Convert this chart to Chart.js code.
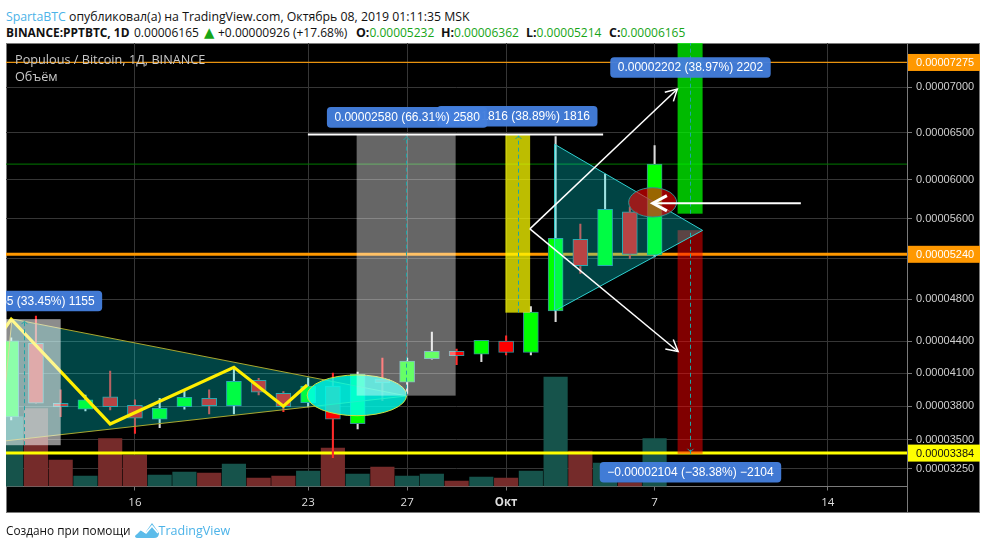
<!DOCTYPE html>
<html>
<head>
<meta charset="utf-8">
<title>PPTBTC</title>
<script src="https://cdn.jsdelivr.net/npm/chart.js@4"></script>
<style>
  body { margin: 0; background: #fff; font-family: "Open Sans", sans-serif; color: #111; }
  #chartCanvas { position: absolute; left: 0; top: 0; }
  .line { position: absolute; left: 6px; font-size: 12.3px; white-space: nowrap; }
  .cell { position: absolute; top: 24px; font-size: 12px; white-space: nowrap; }
  .blue { color: #4cb3e8; }
  .up { color: #17a517; }
  .arrow { font-family: "DejaVu Sans"; font-size: 13.5px; line-height: 1.2; }
  b { font-weight: 700; font-size: 12.4px; }
  b.symbol { font-size: 11.9px; }
  #footer { top: 522px; font-size: 11.8px; }
  #footer .blue { font-size: 12.5px; }
  #footer svg { vertical-align: -4px; margin: 0 0 0 1px; }
</style>
</head>
<body>
<div class="line" style="top:8px"><span class="blue">SpartaBTC</span> опубликовал(а) на TradingView.com, Октябрь 08, 2019 01:11:35 MSK</div>
<div class="cell" style="left:6px"><b class="symbol">BINANCE:PPTBTC, 1D</b></div>
<div class="cell" style="left:134px">0.00006165</div>
<div class="cell arrow up" style="left:204px">▲</div>
<div class="cell" style="left:218px">+0.00000926 (+17.68%)</div>
<div class="cell" style="left:356px"><b>O:</b><span class="up">0.00005232</span></div>
<div class="cell" style="left:441px"><b>H:</b><span class="up">0.00006362</span></div>
<div class="cell" style="left:526px"><b>L:</b><span class="up">0.00005214</span></div>
<div class="cell" style="left:609px"><b>C:</b><span class="up">0.00006165</span></div>
<canvas id="chartCanvas" width="987" height="550"></canvas>
<div class="line" id="footer">Создано при помощи <svg width="24" height="17" viewBox="0 0 24 17"><path fill="#5cbcea" d="M0 14 L5 8 L10 11 L17 1 L24 11 Q24 16 19 16 L3 16 Q0 16 0 14Z"/><path fill="none" stroke="#fff" stroke-width="1.6" d="M1 12 L6 7 L11 11 L17 4 L23 11"/></svg><span class="blue">TradingView</span></div>

<script>
// Days counted from Sep 1, so Oct 1 is 31
const days = [11,12,13,14,15,16,17,18,19,20,21,22,23,24,25,26,27,28,29,30,31,32,33,34,35,36,37];

// Prices in satoshi
const opens  = [3704,4380,3827,3773,3884,3809,3683,3796,3872,3805,4036,3917,3833,3984,3644,4048,4018,4236,4305,4277,4399,4293,4686,5391,5127,5668,5232];
const highs  = [4430,4638,3948,3902,4121,3857,3872,3948,3948,4156,4055,3932,4057,4103,4112,4240,4240,4484,4324,4408,4449,4728,6458,5545,6060,5719,6362];
const lows   = [3677,3827,3706,3757,3767,3558,3608,3773,3731,3731,3902,3751,3794,3345,3597,3851,3917,4230,4180,4208,4271,4271,4584,5052,5127,5200,5214];
const closes = [4402,3827,3796,3857,3796,3692,3782,3881,3805,4027,3927,3796,3984,3683,4094,4011,4212,4305,4264,4408,4293,4676,5401,5127,5695,5239,6165];
const volumes = [70,78,26.5,10.5,48,31.5,11.5,14.5,13.5,22.5,8.5,10.5,15.5,38.5,12.5,19.5,10.5,12.5,5.5,9.5,8.5,15.5,109.5,35.5,23.5,4,47.8];

// Axis ticks
const priceTicks = [7000,6500,6000,5600,5200,4800,4400,4100,3800,3500,3250];
const dayTicks = [16,23,27,31,37,44];
const dayLabels = ['16','23','27','Окт','7','14'];

// Horizontal levels and the labels on the price axis
const levelOrange = 7275;
const levelSupport = 5240;
const levelYellow = 3384;
const levelLast = 6165;

// Yellow zigzag
const zigzagDays = [10.5,11,15,20,22,22.96];
const zigzagPrices = [4440,4607,3641,4156,3800,3993];

// Triangles
const triangleLeftDays = [11.03,26.99,10.55];
const triangleLeftPrices = [4610,3893,3486];
const triangleRightDays = [32.96,38.94,32.96];
const triangleRightPrices = [6376,5480,4686];

// Measure boxes: from day, to day, low price, high price
const boxLeft = [10,13,3453,4608];
const boxGray = [24.96,28.96,3896,6476];
const boxYellow = [30.97,31.97,4670,6486];
const boxGreen = [37.93,38.94,5650,7852];
const boxRed = [37.93,38.94,3378,5482];

// Ellipses: left day, right day, bottom price, top price
const ellipseTeal = [22.96,26.98,3715,4085];
const ellipseRed = [35.95,37.89,5616,5918];

// White arrows: from day, from price, to day, to price
const arrowUp = [31.96,5495,37.92,6978];
const arrowDown = [31.96,5495,37.95,4302];
const arrowLeft = [42.91,5757,36.93,5757];
const topLine = [22.99,6480,34.92,6480];

// Blue labels
const labelTexts = ['0.00001155 (33.45%) 1155','0.00001816 (38.89%) 1816','0.00002580 (66.31%) 2580','0.00002202 (38.97%) 2202','−0.00002104 (−38.38%) −2104'];
const labelDays = [11.47,31.45,27,38.45,38.45];
const labelPrices = [4782,6679,6666,7218,3217];

// The price axis of the picture is a log scale with a shift
const PRICE_SHIFT = 10000;
class ShiftedLogScale extends Chart.LinearScale {
  getPixelForValue(value) {
    const f = v => Math.log(v + PRICE_SHIFT);
    return this.top + (f(this.max) - f(value)) / (f(this.max) - f(this.min)) * this.height;
  }
  getValueForPixel(pixel) {
    const f = v => Math.log(v + PRICE_SHIFT);
    const t = (pixel - this.top) / this.height;
    return Math.exp(f(this.max) - t * (f(this.max) - f(this.min))) - PRICE_SHIFT;
  }
}
ShiftedLogScale.id = 'shiftedLog';
ShiftedLogScale.defaults = Chart.LinearScale.defaults;
Chart.register(ShiftedLogScale);

const X_MIN = 10.79, X_MAX = 47.2;
const TEAL_FILL = 'rgba(0,243,243,0.28)';
const rising = days.map((d, i) => closes[i] >= opens[i]);

function levelLine(label, price, color, width) {
  return {
    type: 'line', label: label, order: 8, yAxisID: 'y',
    data: [{ x: X_MIN, y: price }, { x: X_MAX, y: price }],
    borderColor: color, borderWidth: width, pointRadius: 0
  };
}

// Helpers, everything goes through the chart's scales
function px(chart, day) { return chart.scales.x.getPixelForValue(day); }
function py(chart, price) { return chart.scales.y.getPixelForValue(price); }

function clipArea(chart) {
  const a = chart.chartArea;
  chart.ctx.beginPath();
  chart.ctx.rect(a.left, a.top, a.right - a.left, a.bottom - a.top);
  chart.ctx.clip();
}

function drawPolygon(chart, polyDays, polyPrices, stroke) {
  const ctx = chart.ctx;
  ctx.beginPath();
  polyDays.forEach((d, i) => ctx.lineTo(px(chart, d), py(chart, polyPrices[i])));
  ctx.closePath();
  ctx.fillStyle = TEAL_FILL;
  ctx.fill();
  ctx.strokeStyle = stroke;
  ctx.lineWidth = 1;
  ctx.stroke();
}

function drawEllipse(chart, e, fill, stroke) {
  const ctx = chart.ctx;
  const x0 = px(chart, e[0]), x1 = px(chart, e[1]);
  const y0 = py(chart, e[2]), y1 = py(chart, e[3]);
  ctx.beginPath();
  ctx.ellipse((x0 + x1) / 2, (y0 + y1) / 2, (x1 - x0) / 2, (y0 - y1) / 2, 0, 0, Math.PI * 2);
  ctx.fillStyle = fill;
  ctx.fill();
  ctx.strokeStyle = stroke;
  ctx.lineWidth = 1;
  ctx.stroke();
}

// Box with the dashed arrow in the middle
function drawBox(chart, b, fill, arrowAtTop) {
  const ctx = chart.ctx;
  const x0 = px(chart, b[0]), x1 = px(chart, b[1]);
  const yLow = py(chart, b[2]), yHigh = py(chart, b[3]);
  ctx.fillStyle = fill;
  ctx.fillRect(x0, yHigh, x1 - x0, yLow - yHigh);
  const cx = Math.round((x0 + x1) / 2) + 0.5;
  ctx.strokeStyle = '#1fa5a5';
  ctx.lineWidth = 1;
  ctx.setLineDash([4, 3]);
  ctx.beginPath();
  ctx.moveTo(cx, yLow);
  ctx.lineTo(cx, yHigh);
  ctx.stroke();
  ctx.setLineDash([]);
  const tipY = arrowAtTop ? yHigh + 2 : yLow - 2;
  const dir = arrowAtTop ? 1 : -1;
  ctx.beginPath();
  ctx.moveTo(cx - 3, tipY + dir * 3);
  ctx.lineTo(cx, tipY);
  ctx.lineTo(cx + 3, tipY + dir * 3);
  ctx.stroke();
}

function drawArrow(chart, a, width, head, headWidth) {
  const ctx = chart.ctx;
  const x0 = px(chart, a[0]), y0 = py(chart, a[1]);
  const x1 = px(chart, a[2]), y1 = py(chart, a[3]);
  ctx.strokeStyle = '#fff';
  ctx.lineWidth = width;
  ctx.beginPath();
  ctx.moveTo(x0, y0);
  ctx.lineTo(x1, y1);
  ctx.stroke();
  if (head > 0) {
    const angle = Math.atan2(y1 - y0, x1 - x0);
    ctx.lineWidth = headWidth;
    ctx.beginPath();
    ctx.moveTo(x1 - head * Math.cos(angle - 0.5), y1 - head * Math.sin(angle - 0.5));
    ctx.lineTo(x1, y1);
    ctx.lineTo(x1 - head * Math.cos(angle + 0.5), y1 - head * Math.sin(angle + 0.5));
    ctx.stroke();
  }
}

function drawLabel(chart, i) {
  const ctx = chart.ctx;
  ctx.font = '12px "Liberation Sans"';
  const w = ctx.measureText(labelTexts[i]).width + 15;
  const cx = px(chart, labelDays[i]), cy = py(chart, labelPrices[i]);
  ctx.beginPath();
  ctx.roundRect(cx - w / 2, cy - 10.3, w, 20.6, 4);
  ctx.fillStyle = 'rgba(68,126,220,0.96)';
  ctx.fill();
  ctx.fillStyle = '#fff';
  ctx.textAlign = 'center';
  ctx.textBaseline = 'middle';
  ctx.fillText(labelTexts[i], cx, cy + 0.5);
}

function priceTag(chart, price, fill, textColor) {
  const ctx = chart.ctx;
  const y = py(chart, price);
  const a = chart.chartArea;
  ctx.fillStyle = fill;
  ctx.fillRect(a.right + 1, y - 8.5, 72, 17);
  ctx.fillStyle = textColor;
  ctx.font = '11px "Liberation Sans"';
  ctx.textAlign = 'left';
  ctx.textBaseline = 'middle';
  ctx.fillText((price / 1e8).toFixed(8), a.right + 9, y + 0.5);
}

const drawings = {
  id: 'drawings',
  beforeDraw(chart) {
    const ctx = chart.ctx;
    const a = chart.chartArea;
    ctx.fillStyle = '#000';
    ctx.fillRect(6, 43, 974, 470);
    ctx.strokeStyle = '#7a7a7a';
    ctx.lineWidth = 1;
    ctx.strokeRect(6.5, 43.5, 973, 469);
    ctx.beginPath();
    ctx.moveTo(a.right + 0.5, 43);
    ctx.lineTo(a.right + 0.5, 513);
    ctx.stroke();
  },
  // Layers between the datasets
  afterDatasetDraw(chart, args) {
    const label = chart.data.datasets[args.index].label;
    const ctx = chart.ctx;
    ctx.save();
    clipArea(chart);
    if (label === 'bodies') {
      drawPolygon(chart, triangleLeftDays, triangleLeftPrices, '#a8a830');
    }
    if (label === 'zigzag') {
      drawEllipse(chart, ellipseTeal, 'rgba(0,255,235,0.82)', '#c8e040');
      drawBox(chart, boxLeft, 'rgba(255,255,255,0.55)', true);
      drawBox(chart, boxGray, 'rgba(255,255,255,0.4)', true);
      drawBox(chart, boxYellow, 'rgba(255,255,0,0.74)', true);
      drawBox(chart, boxGreen, 'rgba(0,255,0,0.73)', true);
      drawBox(chart, boxRed, 'rgba(255,0,0,0.5)', false);
      drawPolygon(chart, triangleRightDays, triangleRightPrices, '#2fd0d0');
      drawEllipse(chart, ellipseRed, 'rgba(255,0,0,0.6)', '#2f9090');
      drawArrow(chart, topLine, 2, 0, 0);
      drawArrow(chart, arrowUp, 1.5, 13, 1.5);
      drawArrow(chart, arrowDown, 1.5, 13, 1.5);
      drawArrow(chart, arrowLeft, 2, 16, 3);
      labelTexts.forEach((t, i) => drawLabel(chart, i));
    }
    ctx.restore();
  },
  afterDraw(chart) {
    const ctx = chart.ctx;
    ctx.save();
    priceTag(chart, levelOrange, '#ff9800', '#fff');
    priceTag(chart, levelSupport, '#ff9800', '#fff');
    priceTag(chart, levelYellow, '#ffff00', '#111');
    ctx.fillStyle = '#c8c8c8';
    ctx.font = '12.7px "Open Sans"';
    ctx.textAlign = 'left';
    ctx.textBaseline = 'middle';
    ctx.fillText('Populous / Bitcoin, 1Д, BINANCE', 15, 60);
    ctx.fillText('Объём', 15, 77.5);
    ctx.restore();
  }
};

new Chart(document.getElementById('chartCanvas'), {
  type: 'bar',
  data: {
    datasets: [
      {
        label: 'volume', order: 9, yAxisID: 'yVol', barThickness: 23.5, grouped: false,
        data: days.map((d, i) => ({ x: d, y: volumes[i] })),
        backgroundColor: rising.map(r => r ? '#16534b' : '#752b2a')
      },
      levelLine('levelLast', levelLast, '#007a00', 1),
      levelLine('levelOrange', levelOrange, '#e8920f', 1.2),
      levelLine('levelSupport', levelSupport, '#ff9800', 3),
      levelLine('levelYellow', levelYellow, '#ffff00', 3),
      {
        label: 'wicks', order: 5, yAxisID: 'y', barThickness: 1.4, grouped: false,
        data: days.map((d, i) => ({ x: d, y: [lows[i], highs[i]] })),
        backgroundColor: rising.map(r => r ? '#dcdcdc' : '#ff2a2a')
      },
      {
        label: 'bodies', order: 4, yAxisID: 'y', barThickness: 15, grouped: false,
        data: days.map((d, i) => ({ x: d, y: [opens[i], closes[i]] })),
        backgroundColor: rising.map(r => r ? '#00ff00' : '#ff0000'),
        borderColor: '#3a8f98', borderWidth: 1, borderSkipped: false
      },
      {
        type: 'line', label: 'zigzag', order: 3, yAxisID: 'y',
        data: zigzagDays.map((d, i) => ({ x: d, y: zigzagPrices[i] })),
        borderColor: '#ffee00', borderWidth: 3.2, pointRadius: 0
      }
    ]
  },
  options: {
    responsive: false,
    animation: false,
    layout: { padding: { left: 6, right: 7, top: 43, bottom: 37 } },
    plugins: { legend: { display: false }, tooltip: { enabled: false } },
    scales: {
      x: {
        type: 'linear', min: X_MIN, max: X_MAX, offset: false,
        afterBuildTicks(scale) { scale.ticks = dayTicks.map(v => ({ value: v })); },
        afterFit(scale) { scale.height = 26.5; },
        grid: { color: '#363636', offset: false, tickLength: 4, tickColor: '#777' },
        border: { color: '#7a7a7a' },
        ticks: {
          autoSkip: false, maxRotation: 0, padding: 5, color: '#ddd',
          font: ctx => ({ family: 'Open Sans', size: 11.5, weight: ctx.tick && ctx.tick.value === 31 ? 'bold' : 'normal' }),
          callback: value => dayLabels[dayTicks.indexOf(value)]
        }
      },
      y: {
        type: 'shiftedLog', position: 'right', min: 3095, max: 7496,
        afterBuildTicks(scale) { scale.ticks = priceTicks.map(v => ({ value: v })); },
        afterFit(scale) { scale.width = 73; },
        grid: { color: '#363636', tickLength: 5, tickColor: '#777' },
        border: { color: '#7a7a7a' },
        ticks: {
          autoSkip: false, padding: 4, color: '#cfcfcf',
          font: { family: 'Liberation Sans', size: 11 },
          callback: value => (value / 1e8).toFixed(8)
        }
      },
      yVol: { type: 'linear', display: false, min: 0, max: 443.5 }
    }
  },
  plugins: [drawings]
});
</script>
</body>
</html>
